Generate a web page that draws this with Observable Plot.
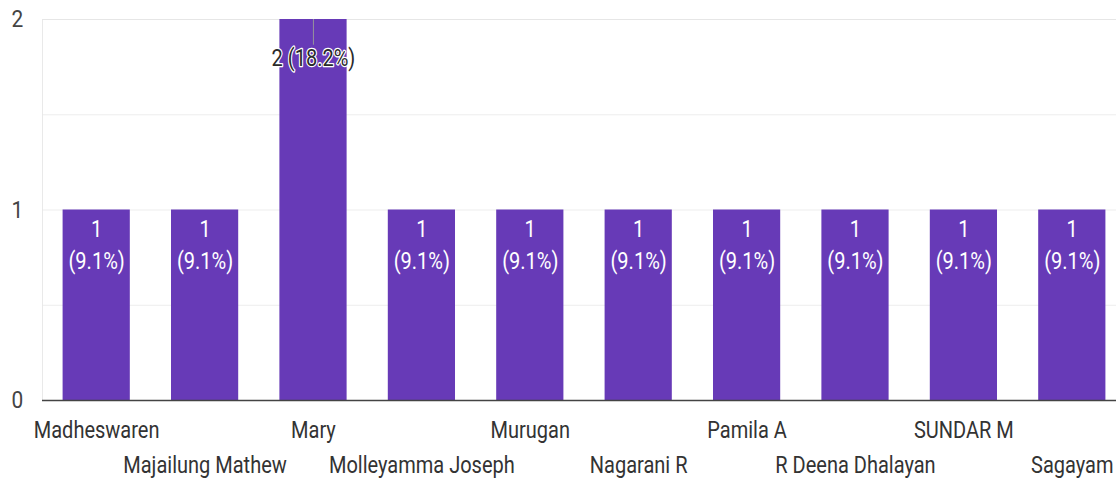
<!DOCTYPE html>
<html>
<head>
<meta charset="utf-8">
<script src="https://cdn.jsdelivr.net/npm/d3@7"></script>
<script src="https://cdn.jsdelivr.net/npm/@observablehq/plot@0.6"></script>
<style>
  html, body { margin: 0; padding: 0; background: #fff; overflow: hidden; }
  #chart svg { display: block; }
</style>
</head>
<body>
<div id="chart"></div>
<script>
const names = ["Madheswaren", "Majailung Mathew", "Mary", "Molleyamma Joseph", "Murugan", "Nagarani R", "Pamila A", "R Deena Dhalayan", "SUNDAR M", "Sagayam"];
const counts = [1, 1, 2, 1, 1, 1, 1, 1, 1, 1];
const yTicks = [0, 1, 2];
const gridTicks = [0.5, 1, 1.5];

const total = d3.sum(counts);
const data = names.map((name, i) => ({
  name, count: counts[i], i,
  pct: (counts[i] / total * 100).toFixed(1) + "%"
}));
const maxCount = d3.max(counts);
const inside = data.filter(d => d.count < maxCount);
const outside = data.filter(d => d.count === maxCount);

// horizontal compression of the whole drawing (reference text is narrow)
const sx = 0.87;
const W = 1126, H = 479;
const font = "Roboto, Arial, sans-serif";
const fs = 23;

const chart = Plot.plot({
  width: W / sx,
  height: H,
  marginLeft: 42 / sx,
  marginRight: 0,
  marginTop: 19,
  marginBottom: 79,
  style: { fontFamily: font, fontSize: fs + "px", background: "#fff" },
  x: { domain: names, paddingInner: 0.38, paddingOuter: 0.19, round: false, axis: null },
  y: { domain: [0, 2], axis: null },
  marks: [
    Plot.ruleY(gridTicks, { stroke: "#ececec", strokeWidth: 1 }),
    Plot.frame({ stroke: "#e6e6e6", strokeWidth: 1 }),
    Plot.barY(data, { x: "name", y: "count", fill: "#673ab7" }),
    Plot.ruleY([0], { stroke: "#444", strokeWidth: 1.5 }),
    Plot.text(inside, {
      x: "name", y: "count",
      text: d => d.count + "\n(" + d.pct + ")",
      lineAnchor: "top", dy: 4, lineHeight: 1.39,
      fill: "#fff", fontSize: fs
    }),
    Plot.ruleX(outside, { x: "name", y1: "count", y2: d => d.count - 0.135, stroke: "#999", strokeWidth: 1 }),
    Plot.text(outside, {
      x: "name", y: "count",
      text: d => d.count + " (" + d.pct + ")",
      lineAnchor: "middle", dy: 39,
      fill: "#2a2a2a", stroke: "#fff", strokeWidth: 2.5, fontSize: fs
    }),
    Plot.text(yTicks, {
      y: d => d, text: d => String(d),
      frameAnchor: "left", dx: -25 / sx, textAnchor: "middle",
      fill: "#444", fontSize: 24
    }),
    Plot.text(data.filter(d => d.i % 2 === 0), {
      x: "name", y: () => 0, text: "name",
      lineAnchor: "middle", dy: 30, fill: "#333", fontSize: fs
    }),
    Plot.text(data.filter(d => d.i % 2 === 1), {
      x: "name", y: () => 0, text: "name",
      lineAnchor: "middle", dy: 65, fill: "#333", fontSize: fs
    })
  ]
});
chart.setAttribute("width", W);
chart.setAttribute("height", H);
chart.setAttribute("preserveAspectRatio", "none");
chart.style.maxWidth = "none";
chart.style.width = W + "px";
chart.style.height = H + "px";
document.getElementById("chart").appendChild(chart);
</script>
</body>
</html>
